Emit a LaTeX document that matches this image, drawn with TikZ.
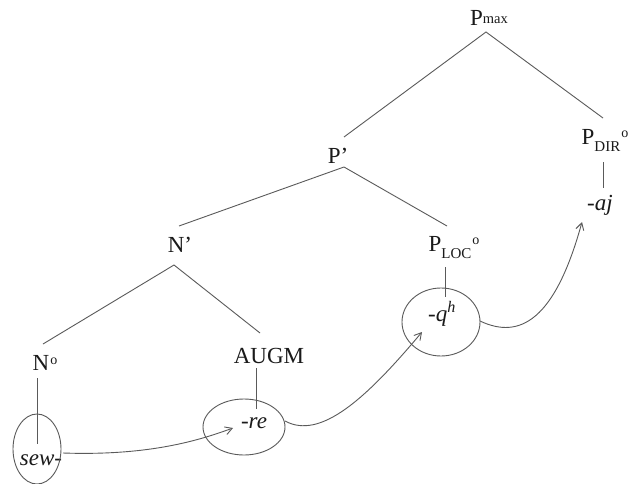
\documentclass[tikz,border=0pt]{standalone}
\usepackage{fontspec}
\setmainfont{Liberation Serif}
\usetikzlibrary{arrows.meta}
\definecolor{linegray}{HTML}{5A5A5A}
\definecolor{inkblack}{HTML}{1A1A1A}
\newcommand{\zerobar}[1]{\raisebox{#1}{\fontsize{14}{15}\selectfont o}}
\begin{document}
\begin{tikzpicture}[x=1pt,y=-1pt,
  lab/.style={font=\fontsize{23}{26}\selectfont, inner sep=0pt, text=inkblack},
  branch/.style={draw=linegray, line width=0.9pt},
  morphring/.style={draw=linegray, line width=0.9pt},
  movearrow/.style={draw=linegray, line width=0.9pt, -{Straight Barb[length=7pt,width=8pt]}}]
\useasboundingbox (0,0) rectangle (629,484);
\fill[white] (0,0) rectangle (629,484);

% labels
\node[lab] (pmax) at (489,18) {P\raisebox{2pt}{\fontsize{14.5}{16}\selectfont max}};
\node[lab] (pbar) at (338,156) {P’};
\node[lab] (nbar) at (180,245) {N’};
\node[lab] (ploc) at (454,248) {P\raisebox{-7pt}{\fontsize{15}{17}\selectfont LOC}\kern1pt\zerobar{7pt}};
\node[lab] (pdir) at (605,140) {P\raisebox{-7pt}{\fontsize{15}{17}\selectfont DIR}\kern1pt\zerobar{7pt}};
\node[lab] (nzero) at (45,363) {N\kern1pt\zerobar{6pt}};
\node[lab] (augm) at (269,356) {AUGM};
\node[lab] (sew) at (41,460) {\itshape sew-};
\node[lab] (re) at (254,423) {\itshape -re};
\node[lab] (qh) at (442,314) {\itshape -q\textsuperscript{h}};
\node[lab] (aj) at (600,205) {\itshape -aj};

% ellipses
\draw[morphring] (37,449) ellipse [x radius=24, y radius=35];
\draw[morphring] (244,427) ellipse [x radius=41, y radius=28];
\draw[morphring] (441,322) ellipse [x radius=39, y radius=34];

% branch points
\coordinate (pmaxA) at (486,32);
\coordinate (pmaxL) at (344,137);
\coordinate (pmaxR) at (603,118);
\coordinate (pbarA) at (344,167);
\coordinate (pbarL) at (179,226);
\coordinate (pbarR) at (447,226);
\coordinate (nbarA) at (174,265);
\coordinate (nbarL) at (43,344);
\coordinate (nbarR) at (260,333);
\coordinate (nzT) at (37,378);
\coordinate (nzB) at (37,444);
\coordinate (augT) at (256,368);
\coordinate (augB) at (256,409);
\coordinate (plocT) at (445,267);
\coordinate (plocB) at (445,297);
\coordinate (pdirT) at (603,162);
\coordinate (pdirB) at (603,188);

\draw[branch] (pmaxL) -- (pmaxA) -- (pmaxR);
\draw[branch] (pbarL) -- (pbarA) -- (pbarR);
\draw[branch] (nbarL) -- (nbarA) -- (nbarR);
\draw[branch] (nzT) -- (nzB);
\draw[branch] (augT) -- (augB);
\draw[branch] (plocT) -- (plocB);
\draw[branch] (pdirT) -- (pdirB);

% movement arrows
\coordinate (m1s) at (63,453);
\coordinate (m1e) at (233,428);
\coordinate (m2s) at (285,421);
\coordinate (m2e) at (422,332);
\coordinate (m3s) at (480,321);
\coordinate (m3e) at (582,222);
\draw[movearrow] (m1s) .. controls (150,456) and (200,440) .. (m1e);
\draw[movearrow] (m2s) .. controls (320,440) and (365,400) .. (m2e);
\draw[movearrow] (m3s) .. controls (520,340) and (555,320) .. (m3e);
\end{tikzpicture}
\end{document}
